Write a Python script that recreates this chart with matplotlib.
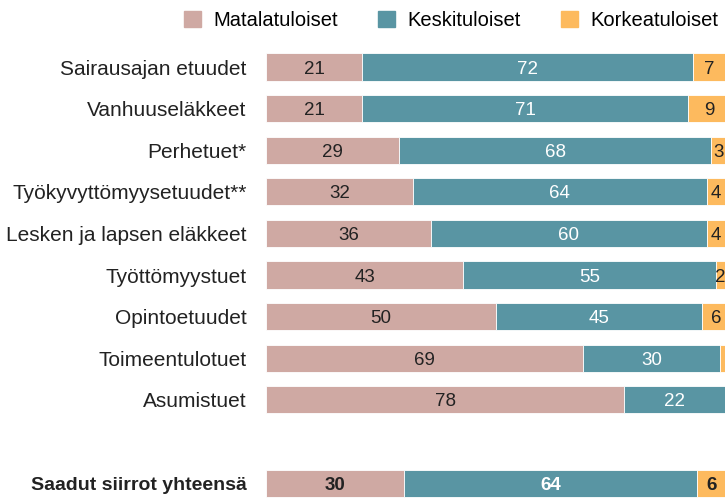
import matplotlib
matplotlib.use("Agg")
import matplotlib.pyplot as plt
from matplotlib.patches import Patch

categories = ["Sairausajan etuudet", "Vanhuuseläkkeet", "Perhetuet*", "Työkyvyttömyysetuudet**",
              "Lesken ja lapsen eläkkeet", "Työttömyystuet", "Opintoetuudet", "Toimeentulotuet",
              "Asumistuet", "Saadut siirrot yhteensä"]
low = [21, 21, 29, 32, 36, 43, 50, 69, 78, 30]
mid = [72, 71, 68, 64, 60, 55, 45, 30, 22, 64]
high = [7, 9, 3, 4, 4, 2, 6, 1, 0.5, 6]
series_names = ["Matalatuloiset", "Keskituloiset", "Korkeatuloiset"]

plt.rcParams['font.family'] = ['Liberation Sans', 'DejaVu Sans']

colors = ["#CFA9A3", "#5995A3", "#FDBA5E"]
txtcol = ["#222222", "#ffffff", "#222222"]

fig = plt.figure(figsize=(7.25, 4.98), dpi=100)
ax = fig.add_axes([0.367, 0.0, 0.633, 0.893])
pos = [0, 1, 2, 3, 4, 5, 6, 7, 8, 10]
left = [0] * len(pos)
for s, (vals, c, tc) in enumerate(zip([low, mid, high], colors, txtcol)):
    ax.barh(pos, vals, left=left, height=0.65, color=c, edgecolor='white', linewidth=0.6)
    for i, (p, v, l) in enumerate(zip(pos, vals, left)):
        if v >= 2:
            ax.text(l + v / 2, p, f"{v:g}", ha='center', va='center_baseline', color=tc,
                    fontsize=13.5, fontweight='bold' if i == len(pos) - 1 else 'normal')
    left = [a + b for a, b in zip(left, vals)]

ax.set_xlim(0, 100)
ax.set_ylim(10.36, -0.33)
ax.set_yticks(pos)
ax.set_yticklabels(categories, fontsize=15, color='#222222', va='center_baseline')
ax.get_yticklabels()[-1].set_fontweight('bold')
ax.get_yticklabels()[-1].set_fontsize(14)
ax.tick_params(axis='y', length=0, pad=14)
ax.set_xticks([])
for sp in ax.spines.values():
    sp.set_visible(False)

handles = [Patch(color=c) for c in colors]
fig.legend(handles, series_names, loc='upper center', bbox_to_anchor=(0.622, 1.015), ncol=3,
           frameon=False, fontsize=14.5, handlelength=0.85, handleheight=0.85,
           columnspacing=2.0, handletextpad=0.6)
fig.savefig("out.png", dpi=100)
